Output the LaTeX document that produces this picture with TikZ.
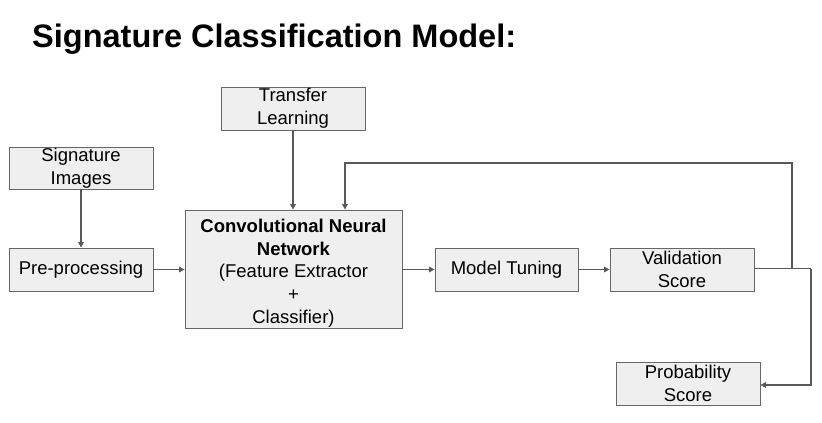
\documentclass[tikz,border=0pt]{standalone}
\usepackage{fontspec}
\setmainfont{Liberation Sans}
\usetikzlibrary{arrows.meta}
\definecolor{boxfill}{HTML}{EFEFEF}
\definecolor{boxline}{HTML}{666666}
\definecolor{conn}{HTML}{595959}
\begin{document}
\begin{tikzpicture}[x=1pt,y=-1pt,
  box/.style={draw=boxline, line width=0.8pt, fill=boxfill, align=center,
    inner sep=0pt, font=\fontsize{18.5}{23}\selectfont, text=black},
  conn/.style={draw=conn, line width=1.7pt, -{Triangle[length=5.5pt,width=5.5pt]}},
  seg/.style={draw=conn, line width=1.7pt}]
\useasboundingbox (0,0) rectangle (822,423);
\fill[white] (0,0) rectangle (822,423);
\node[anchor=base west, inner sep=0pt, font=\fontsize{32.5}{39}\selectfont\bfseries] (title) at (32,47) {Signature Classification Model:};
\node[box, minimum width=144pt, minimum height=42pt] (sig) at (81,168) {Signature\\Images};
\node[box, minimum width=144pt, minimum height=43pt] (pre) at (81,269.5) {Pre-processing};
\node[box, minimum width=144pt, minimum height=43pt] (tl) at (293,108.5) {Transfer\\Learning};
\node[box, minimum width=217pt, minimum height=118pt, font=\fontsize{18.5}{22.6}\selectfont] (cnn) at (293.5,269) {\rule{0pt}{21.5pt}\textbf{Convolutional Neural}\\\textbf{Network}\\(Feature Extractor\\+\\Classifier)};
\node[box, minimum width=143pt, minimum height=43pt] (mt) at (506.5,269.5) {Model Tuning};
\node[box, minimum width=144pt, minimum height=43pt] (vs) at (682,269.5) {Validation\\Score};
\node[box, minimum width=144pt, minimum height=43pt] (ps) at (688,383.5) {Probability\\Score};
\coordinate (j1) at (792,268.5);
\coordinate (c1) at (792,163);
\coordinate (c2) at (345,163);
\coordinate (j2) at (811,268.5);
\coordinate (c3) at (811,385);
\draw[conn] (sig.south) -- (pre.north);
\draw[conn] (pre.east) -- (cnn.west |- pre.east);
\draw[conn] (tl.south) -- (tl.south |- cnn.north);
\draw[conn] (cnn.east |- mt.west) -- (mt.west);
\draw[conn] (mt.east) -- (vs.west);
\draw[seg] (vs.east |- j2) -- (j2);
\draw[conn] (j1) -- (c1) -- (c2) -- (c2 |- cnn.north);
\draw[conn] (j2) -- (c3) -- (ps.east |- c3);
\end{tikzpicture}
\end{document}
